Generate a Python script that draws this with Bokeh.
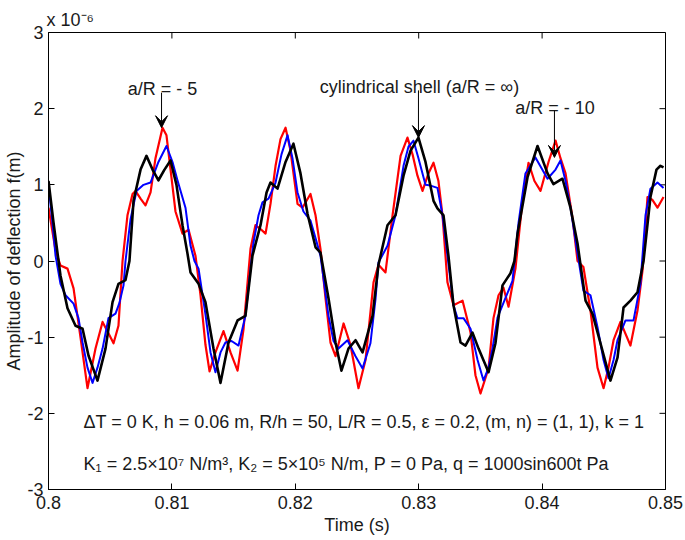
import numpy as np
from bokeh.plotting import figure
from bokeh.models import Label, Arrow, VeeHead, FixedTicker, Range1d
from bokeh.embed import file_html
from bokeh.resources import INLINE

# ---------------- data (values in units of 1e-6 m) ----------------
t_red = [0.80000, 0.80057, 0.80097, 0.80154, 0.80203, 0.80259, 0.80316, 0.80381, 0.80438, 0.80486,
         0.80527, 0.80567, 0.80600, 0.80640, 0.80681, 0.80705, 0.80746, 0.80786, 0.80827, 0.80867,
         0.80924, 0.80956, 0.80989, 0.81029, 0.81086, 0.81135, 0.81191, 0.81232, 0.81272, 0.81305,
         0.81353, 0.81418, 0.81475, 0.81532, 0.81580, 0.81637, 0.81677, 0.81718, 0.81759, 0.81799,
         0.81840, 0.81880, 0.81921, 0.81961, 0.82018, 0.82058, 0.82123, 0.82164, 0.82204, 0.82245,
         0.82285, 0.82326, 0.82391, 0.82447, 0.82512, 0.82569, 0.82634, 0.82674, 0.82731, 0.82788,
         0.82853, 0.82909, 0.82950, 0.82990, 0.83031, 0.83079, 0.83120, 0.83160, 0.83193, 0.83233,
         0.83282, 0.83355, 0.83420, 0.83460, 0.83501, 0.83566, 0.83606, 0.83647, 0.83687, 0.83728,
         0.83784, 0.83841, 0.83890, 0.83938, 0.83987, 0.84052, 0.84109, 0.84149, 0.84190, 0.84246,
         0.84287, 0.84335, 0.84392, 0.84449, 0.84498, 0.84538, 0.84579, 0.84635, 0.84716, 0.84773,
         0.84814, 0.84854, 0.84895, 0.84935, 0.84984]
v_red = [0.70, 0.14, -0.06, -0.10, -0.36, -1.00, -1.67, -1.15, -0.80, -0.95,
         -1.08, -0.85, 0.00, 0.60, 0.88, 0.92, 0.82, 0.73, 0.90, 1.35,
         1.75, 1.65, 1.20, 0.65, 0.36, 0.41, 0.07, -0.45, -1.10, -1.45,
         -1.20, -0.92, -1.20, -1.44, -0.90, 0.16, 0.47, 0.42, 0.36, 0.75,
         1.25, 1.60, 1.75, 1.45, 0.75, 0.70, 0.88, 0.60, 0.16, -0.49,
         -1.07, -1.25, -0.82, -1.10, -1.67, -1.30, -0.28, -0.05, -0.15, 0.60,
         1.38, 1.62, 1.40, 1.12, 0.92, 1.15, 1.29, 1.05, 0.60, -0.28,
         -0.58, -0.52, -0.94, -1.50, -1.74, -1.41, -0.75, -0.45, -0.35, -0.60,
         -0.10, 0.79, 1.29, 1.05, 0.92, 1.30, 1.58, 1.35, 1.15, 0.57,
         0.00, -0.08, -0.65, -1.40, -1.67, -1.40, -1.04, -0.80, -1.11, -0.65,
         -0.12, 0.84, 0.80, 0.70, 0.84]

t_blue = [0.80000, 0.80032, 0.80057, 0.80097, 0.80138, 0.80203, 0.80243, 0.80276, 0.80316, 0.80357,
          0.80397, 0.80438, 0.80486, 0.80543, 0.80575, 0.80608, 0.80624, 0.80665, 0.80713, 0.80770,
          0.80827, 0.80891, 0.80956, 0.81005, 0.81045, 0.81110, 0.81151, 0.81183, 0.81216, 0.81272,
          0.81313, 0.81353, 0.81394, 0.81434, 0.81483, 0.81540, 0.81596, 0.81637, 0.81661, 0.81702,
          0.81734, 0.81783, 0.81840, 0.81888, 0.81937, 0.81977, 0.82018, 0.82066, 0.82123, 0.82164,
          0.82204, 0.82269, 0.82310, 0.82350, 0.82423, 0.82488, 0.82545, 0.82609, 0.82650, 0.82674,
          0.82747, 0.82812, 0.82877, 0.82917, 0.82958, 0.82998, 0.83055, 0.83096, 0.83152, 0.83193,
          0.83233, 0.83282, 0.83314, 0.83363, 0.83420, 0.83477, 0.83525, 0.83566, 0.83598, 0.83639,
          0.83687, 0.83760, 0.83809, 0.83865, 0.83946, 0.84044, 0.84109, 0.84149, 0.84190, 0.84230,
          0.84287, 0.84335, 0.84392, 0.84449, 0.84498, 0.84538, 0.84579, 0.84611, 0.84676, 0.84741,
          0.84797, 0.84838, 0.84878, 0.84935, 0.84984]
v_blue = [1.00, 0.50, 0.07, -0.30, -0.45, -0.56, -0.75, -1.07, -1.40, -1.60,
          -1.40, -1.15, -0.75, -0.69, -0.55, -0.32, 0.00, 0.55, 0.92, 1.00,
          1.03, 1.30, 1.51, 1.30, 1.06, 0.70, 0.20, 0.00, -0.10, -0.70,
          -1.20, -1.46, -1.20, -1.07, -1.05, -1.11, -0.72, -0.10, 0.24, 0.60,
          0.77, 0.82, 1.03, 1.40, 1.65, 1.35, 0.90, 0.65, 0.53, 0.30,
          0.07, -0.72, -1.05, -1.15, -1.04, -1.25, -1.41, -1.08, -0.50, -0.02,
          0.20, 0.60, 1.25, 1.50, 1.58, 1.35, 1.00, 0.99, 0.96, 0.60,
          0.07, -0.58, -0.75, -0.75, -0.89, -1.30, -1.57, -1.40, -1.15, -0.74,
          -0.55, -0.26, 0.50, 1.15, 1.36, 1.08, 1.20, 1.32, 1.05, 0.70,
          0.10, -0.39, -0.45, -0.87, -1.30, -1.54, -1.30, -1.04, -0.78, -0.78,
          -0.30, 0.60, 0.95, 1.03, 0.96]

t_black = [0.80000, 0.80041, 0.80097, 0.80154, 0.80219, 0.80276, 0.80324, 0.80397, 0.80462, 0.80519,
           0.80567, 0.80624, 0.80656, 0.80689, 0.80746, 0.80794, 0.80843, 0.80891, 0.80940, 0.80989,
           0.81037, 0.81086, 0.81126, 0.81151, 0.81216, 0.81272, 0.81337, 0.81394, 0.81459, 0.81532,
           0.81596, 0.81653, 0.81718, 0.81767, 0.81799, 0.81856, 0.81921, 0.81985, 0.82042, 0.82099,
           0.82164, 0.82204, 0.82269, 0.82326, 0.82374, 0.82431, 0.82488, 0.82545, 0.82626, 0.82674,
           0.82747, 0.82812, 0.82877, 0.82934, 0.82998, 0.83055, 0.83120, 0.83152, 0.83201, 0.83241,
           0.83282, 0.83339, 0.83379, 0.83436, 0.83485, 0.83566, 0.83622, 0.83679, 0.83744, 0.83776,
           0.83801, 0.83882, 0.83963, 0.84044, 0.84092, 0.84165, 0.84230, 0.84287, 0.84352, 0.84408,
           0.84473, 0.84554, 0.84611, 0.84660, 0.84716, 0.84773, 0.84822, 0.84878, 0.84927, 0.84959,
           0.84984]
v_black = [1.05, 0.50, -0.19, -0.62, -0.85, -0.89, -1.24, -1.57, -1.15, -0.54,
           -0.30, -0.25, 0.00, 0.79, 1.20, 1.38, 1.20, 1.06, 1.20, 1.32,
           1.00, 0.47, 0.10, -0.15, -0.30, -0.54, -1.15, -1.60, -1.07, -0.78,
           -0.72, 0.07, 0.47, 0.90, 1.03, 0.95, 1.30, 1.54, 1.15, 0.62,
           0.18, 0.11, -0.49, -1.07, -1.44, -1.15, -1.04, -1.20, -0.72, -0.05,
           0.47, 0.60, 1.12, 1.45, 1.62, 1.30, 0.79, 0.69, 0.60, 0.07,
           -0.58, -1.07, -1.11, -0.94, -1.15, -1.46, -1.08, -0.32, -0.16, 0.00,
           0.36, 1.10, 1.51, 1.15, 1.01, 1.08, 0.70, 0.23, -0.52, -0.69,
           -1.08, -1.57, -1.27, -0.61, -0.52, -0.41, 0.00, 0.84, 1.20, 1.25,
           1.23]

x_ticks = [0.80, 0.81, 0.82, 0.83, 0.84, 0.85]
x_tick_labels = ["0.8", "0.81", "0.82", "0.83", "0.84", "0.85"]
y_ticks = [-3, -2, -1, 0, 1, 2, 3]
y_tick_labels = ["-3", "-2", "-1", "0", "1", "2", "3"]
x_lim = (0.8, 0.85)
y_lim = (-3, 3)

ann_texts = ["a/R = - 5", "cylindrical shell (a/R = \u221e)", "a/R = - 10"]
ann_x = [0.80924, 0.83006, 0.84105]
ann_y = [2.26, 2.28, 2.01]
arrow_x = [0.80916, 0.82998, 0.84100]
arrow_y0 = [2.21, 2.24, 1.975]
arrow_y1 = [1.75, 1.62, 1.36]

param_lines = ["\u0394T = 0 K, h = 0.06 m, R/h = 50, L/R = 0.5, \u03b5 = 0.2, (m, n) = (1, 1), k = 1",
               "K\u2081 = 2.5\u00d710\u2077 N/m\u00b3, K\u2082 = 5\u00d710\u2075 N/m, P = 0 Pa, q = 1000sin600t Pa"]
param_x = [0.80284, 0.80284]
param_y = [-2.12, -2.66]

FONT = "Liberation Sans"
TC = "#1a1a1a"
FS = "18px"

p = figure(width=685, height=540, x_range=Range1d(*x_lim), y_range=Range1d(*y_lim),
           output_backend="svg", toolbar_location=None,
           min_border_left=48, min_border_right=20, min_border_top=32, min_border_bottom=51)
p.grid.visible = False
p.outline_line_color = "black"
p.background_fill_color = "white"
p.border_fill_color = "white"

overrides_x = {x: s for x, s in zip(x_ticks, x_tick_labels)}
overrides_y = {y: s for y, s in zip(y_ticks, y_tick_labels)}

def style_axis(ax, ticks, overrides):
    ax.ticker = FixedTicker(ticks=ticks)
    ax.major_label_overrides = overrides
    ax.major_tick_in = 6
    ax.major_tick_out = 0
    ax.minor_tick_in = 0
    ax.minor_tick_out = 0
    ax.axis_line_color = "black"
    ax.major_tick_line_color = "black"
    ax.major_label_text_font = FONT
    ax.major_label_text_color = TC
    ax.major_label_text_font_size = FS
    ax.major_label_standoff = 6
    ax.axis_label_text_font = FONT
    ax.axis_label_text_font_style = "normal"
    ax.axis_label_text_font_size = FS
    ax.axis_label_text_color = TC

style_axis(p.xaxis[0], x_ticks, overrides_x)
p.xaxis[0].axis_label = "Time (s)"
p.xaxis[0].axis_label_standoff = 3

style_axis(p.yaxis[0], y_ticks, overrides_y)
p.yaxis[0].major_label_standoff = 5
p.yaxis[0].axis_label = "Amplitude of deflection f(m)"
p.yaxis[0].axis_label_standoff = 0

# mirrored inward ticks on the top and right edges
p.ray(x=x_ticks, y=[y_lim[1]] * len(x_ticks), length=6, length_units="screen",
      angle=-np.pi / 2, line_color="black", line_width=1)
p.ray(x=[x_lim[1]] * len(y_ticks), y=y_ticks, length=6, length_units="screen",
      angle=np.pi, line_color="black", line_width=1)

p.line(t_red, v_red, line_color="#ff0000", line_width=2.2, line_join="round")
p.line(t_blue, v_blue, line_color="#0000ff", line_width=2.0, line_join="round")
p.line(t_black, v_black, line_color="black", line_width=2.6, line_join="round")

for txt, x, y in zip(ann_texts, ann_x, ann_y):
    p.add_layout(Label(x=x, y=y, text=txt, text_align="center", text_baseline="alphabetic",
                       text_font=FONT, text_font_size=FS, text_color=TC))
for x, y0, y1 in zip(arrow_x, arrow_y0, arrow_y1):
    p.add_layout(Arrow(x_start=x, y_start=y0, x_end=x, y_end=y1, line_width=1, line_color="black",
                       end=VeeHead(size=12, fill_color="black", line_color="black")))
for txt, x, y in zip(param_lines, param_x, param_y):
    p.add_layout(Label(x=x, y=y, text=txt, text_align="left", text_baseline="alphabetic",
                       text_font=FONT, text_font_size=FS, text_color=TC))

# exponent above the y axis
p.title.text = "x 10\u207b\u2076"
p.title.align = "left"
p.title.offset = -2
p.title.standoff = 5
p.title.text_font = FONT
p.title.text_font_size = FS
p.title.text_font_style = "normal"
p.title.text_color = TC

open("out.html", "w").write(file_html(p, INLINE))
